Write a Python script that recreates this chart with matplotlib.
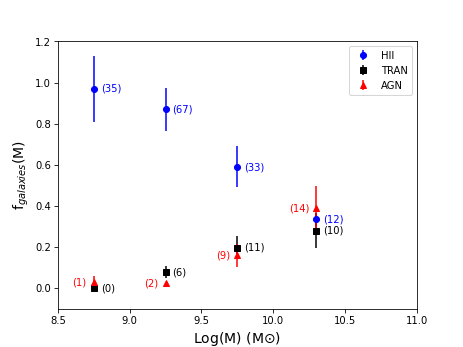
import matplotlib
matplotlib.use("Agg")
import matplotlib.pyplot as plt
import numpy as np

## mass bins
logm = [8.75, 9.25, 9.75, 10.3]

## fractions and errors
f_hii = [0.97, 0.87, 0.59, 0.335]
e_hii = [0.16, 0.105, 0.10, 0.03]
n_hii = [35, 67, 33, 12]

f_tran = [0.0, 0.08, 0.198, 0.28]
e_tran = [0.0, 0.03, 0.057, 0.085]
n_tran = [0, 6, 11, 10]

f_agn = [0.031, 0.026, 0.16, 0.39]
e_agn = [0.03, 0.0, 0.055, 0.107]
n_agn = [1, 2, 9, 14]

fig, ax = plt.subplots(figsize=(6.4, 4.8), dpi=463 / 6.4)

ax.errorbar(logm, f_hii, yerr=e_hii, fmt='o', color='b', label='HII')
ax.errorbar(logm, f_tran, yerr=e_tran, fmt='s', color='k', label='TRAN')
ax.errorbar(logm, f_agn, yerr=e_agn, fmt='^', color='r', label='AGN')

for i in range(len(logm)):
    ax.annotate('(%d)' % n_hii[i], (logm[i], f_hii[i]), xytext=(7, 0),
                textcoords='offset points', color='b', fontsize=10, va='center')
    ax.annotate('(%d)' % n_tran[i], (logm[i], f_tran[i]), xytext=(7, 0),
                textcoords='offset points', color='k', fontsize=10, va='center')
    ax.annotate('(%d)' % n_agn[i], (logm[i], f_agn[i]), xytext=(-7, 0),
                textcoords='offset points', color='r', fontsize=10, va='center', ha='right')

ax.set_xlim(8.5, 11.0)
ax.set_ylim(-0.1, 1.2)
ax.set_xlabel(r'Log(M) (M$\odot$)', fontsize=14)
ax.set_ylabel(r'f$_{galaxies}$(M)', fontsize=14)
ax.legend(loc='upper right')

plt.savefig('out.png', dpi=463 / 6.4)
